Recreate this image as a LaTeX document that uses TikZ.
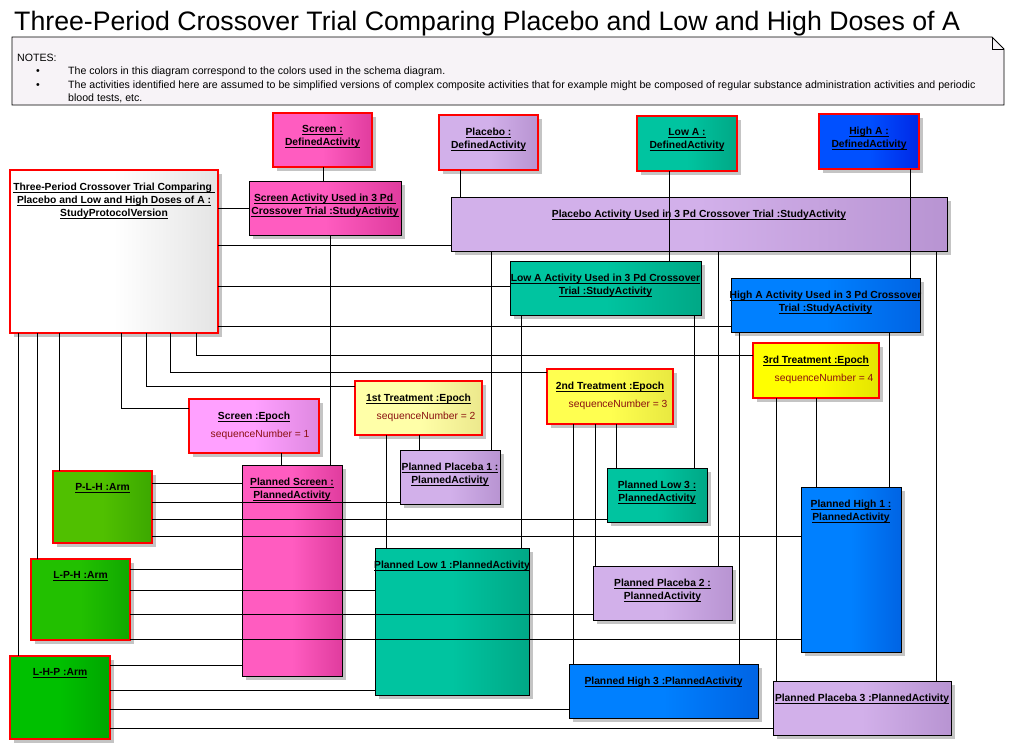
\documentclass[tikz,border=0pt]{standalone}
\usepackage{fontspec}
\setmainfont{Liberation Sans}
\usetikzlibrary{shadows}
\definecolor{boxred}{HTML}{FF0000}
\definecolor{shadowgray}{HTML}{C4C4C4}
\definecolor{attrred}{HTML}{8A1010}
\definecolor{notefill}{HTML}{F7F3F7}
\definecolor{pinkA}{HTML}{FF5CC0}\definecolor{pinkB}{HTML}{E03C9E}
\definecolor{lavA}{HTML}{D2B0EA}\definecolor{lavB}{HTML}{B894D2}
\definecolor{tealA}{HTML}{00C4A0}\definecolor{tealB}{HTML}{00A886}
\definecolor{blueA}{HTML}{0080FF}\definecolor{blueB}{HTML}{0064E4}
\definecolor{hblueA}{HTML}{0050FF}\definecolor{hblueB}{HTML}{0028E6}
\definecolor{yoneA}{HTML}{FFFFA8}\definecolor{yoneB}{HTML}{ECE88C}
\definecolor{ytwoA}{HTML}{FFFF50}\definecolor{ytwoB}{HTML}{E8E840}
\definecolor{ythrA}{HTML}{FFFF00}\definecolor{ythrB}{HTML}{E4E400}
\definecolor{scrA}{HTML}{FFA0FF}\definecolor{scrB}{HTML}{DE88E0}
\definecolor{goneA}{HTML}{50C000}\definecolor{goneB}{HTML}{3CA800}
\definecolor{gtwoA}{HTML}{22C000}\definecolor{gtwoB}{HTML}{10A800}
\definecolor{gthrA}{HTML}{00C000}\definecolor{gthrB}{HTML}{00A600}
\definecolor{spvB}{HTML}{E4E4E4}
\newcommand\ul[1]{\setbox0=\hbox{#1}\rlap{\rule[-2.2pt]{\wd0}{0.8pt}}\box0}
\tikzset{
  box/.style={inner sep=0pt, outer sep=0pt, line width=1pt,
    general shadow={fill=shadowgray, shadow xshift=4pt, shadow yshift=-4pt}},
  rbox/.style={box, draw=boxred, line width=1.3pt},
  kbox/.style={box, draw=black},
  grad/.style 2 args={left color=#1, right color=#2, middle color=#1},
  lbl/.style={inner sep=0pt, anchor=north, align=center,
    font=\fontsize{10.3}{13}\selectfont\bfseries},
  attr/.style={inner sep=0pt, font=\fontsize{10.3}{13}\selectfont, text=attrred},
  conn/.style={draw=black, line width=0.9pt},
  notetxt/.style={inner sep=0pt, font=\fontsize{10.6}{13}\selectfont},
}
\newcommand\mkbox[7]{%
  \node[#6, minimum width={(#4-#2)*1pt}, minimum height={(#5-#3)*1pt}] (#1)
    at ({(#2+#4)/2},{(#3+#5)/2}) {};
  \node[lbl] (#1-t) at ([yshift=-12.5pt]#1.north) {#7};}
\newcommand\mkepoch[8]{%
  \mkbox{#1}{#2}{#3}{#4}{#5}{#6}{\ul{#7}}
  \node[attr, anchor=base west] (#1-a) at ([xshift=21.5pt,yshift=-38pt]#1.north west) {#8};}
\begin{document}
\begin{tikzpicture}[x=1pt,y=-1pt]
\fill[white] (0,0) rectangle (1014,750);
\path[use as bounding box] (0,0) rectangle (1014,750);
% title
\node[inner sep=0pt, anchor=base west, font=\fontsize{26.7}{30}\selectfont] (title) at (14,30)
  {Three-Period Crossover Trial Comparing Placebo and Low and High Doses of A};
% notes
\path[draw=black, line width=0.8pt, fill=notefill] (12,37) -- (992,37) -- (1004,49) -- (1004,105) -- (12,105) -- cycle;
\draw[line width=0.8pt] (992,37) -- (992,49) -- (1004,49);
\node[notetxt, anchor=base west] (nhead) at (17,61) {NOTES:};
\node[notetxt, anchor=base] (bul1) at (38,74) {\textbullet};
\node[notetxt, anchor=base] (bul2) at (38,88) {\textbullet};
\node[notetxt, anchor=base west] (nl1) at (68,74) {The colors in this diagram correspond to the colors used in the schema diagram.};
\node[notetxt, anchor=base west] (nl2) at (68,88) {The activities identified here are assumed to be simplified versions of complex composite activities that for example might be composed of regular substance administration activities and periodic};
\node[notetxt, anchor=base west] (nl3) at (68,101) {blood tests, etc.};
% boxes
\mkbox{spv}{10}{170}{218}{333}{rbox,grad={white}{spvB}}{\ul{Three-Period Crossover Trial Comparing }\\\ul{Placebo and Low and High Doses of A :}\\\ul{StudyProtocolVersion}}
\mkbox{sda}{273}{113}{372}{167}{rbox,grad={pinkA}{pinkB}}{\ul{Screen :}\\\ul{DefinedActivity}}
\mkbox{pda}{439}{115}{538}{170}{rbox,grad={lavA}{lavB}}{\ul{Placebo :}\\\ul{DefinedActivity}}
\mkbox{lda}{637}{116}{737}{171}{rbox,grad={tealA}{tealB}}{\ul{Low A :}\\\ul{DefinedActivity}}
\mkbox{hda}{819}{114}{919}{169}{rbox,grad={hblueA}{hblueB}}{\ul{High A :}\\\ul{DefinedActivity}}
\mkbox{ssa}{249}{181}{401}{235}{kbox,grad={pinkA}{pinkB}}{\ul{Screen Activity Used in 3 Pd }\\\ul{Crossover Trial :StudyActivity}}
\mkbox{psa}{451}{197}{947}{251}{kbox,grad={lavA}{lavB}}{\ul{Placebo Activity Used in 3 Pd Crossover Trial :StudyActivity}}
\mkbox{lsa}{510}{261}{701}{315}{kbox,grad={tealA}{tealB}}{\ul{Low A Activity Used in 3 Pd Crossover}\\\ul{Trial :StudyActivity}}
\mkbox{hsa}{731}{278}{920}{332}{kbox,grad={blueA}{blueB}}{\ul{High A Activity Used in 3 Pd Crossover}\\\ul{Trial :StudyActivity}}
\mkepoch{tthr}{753}{343}{879}{398}{rbox,grad={ythrA}{ythrB}}{3rd Treatment :Epoch}{sequenceNumber = 4}
\mkepoch{ttwo}{547}{369}{673}{424}{rbox,grad={ytwoA}{ytwoB}}{2nd Treatment :Epoch}{sequenceNumber = 3}
\mkepoch{tone}{355}{381}{482}{435}{rbox,grad={yoneA}{yoneB}}{1st Treatment :Epoch}{sequenceNumber = 2}
\mkepoch{sep}{189}{399}{319}{453}{rbox,grad={scrA}{scrB}}{Screen :Epoch}{sequenceNumber = 1}
\mkbox{ppone}{400}{450}{500}{504}{kbox,grad={lavA}{lavB}}{\ul{Planned Placeba 1 :}\\\ul{PlannedActivity}}
\mkbox{plthr}{607}{468}{707}{522}{kbox,grad={tealA}{tealB}}{\ul{Planned Low 3 :}\\\ul{PlannedActivity}}
\mkbox{pscr}{242}{465}{342}{676}{kbox,grad={pinkA}{pinkB}}{\ul{Planned Screen :}\\\ul{PlannedActivity}}
\mkbox{plh}{53}{471}{152}{543}{rbox,grad={goneA}{goneB}}{\ul{P-L-H :Arm}}
\mkbox{phone}{801}{487}{901}{652}{kbox,grad={blueA}{blueB}}{\ul{Planned High 1 :}\\\ul{PlannedActivity}}
\mkbox{plone}{375}{548}{529}{695}{kbox,grad={tealA}{tealB}}{\ul{Planned Low 1 :PlannedActivity}}
\mkbox{lph}{31}{559}{130}{640}{rbox,grad={gtwoA}{gtwoB}}{\ul{L-P-H :Arm}}
\mkbox{pptwo}{593}{566}{732}{620}{kbox,grad={lavA}{lavB}}{\ul{Planned Placeba 2 :}\\\ul{PlannedActivity}}
\mkbox{lhp}{10}{656}{110}{739}{rbox,grad={gthrA}{gthrB}}{\ul{L-H-P :Arm}}
\mkbox{phthr}{569}{664}{758}{718}{kbox,grad={blueA}{blueB}}{\ul{Planned High 3 :PlannedActivity}}
\mkbox{ppthr}{773}{681}{951}{735}{kbox,grad={lavA}{lavB}}{\ul{Planned Placeba 3 :PlannedActivity}}
% connectors from the protocol version
\draw[conn] (spv.east |- 0,208) -- (ssa.west |- 0,208);
\draw[conn] (spv.east |- 0,245) -- (psa.west |- 0,245);
\draw[conn] (spv.east |- 0,286) -- (lsa.west |- 0,286);
\draw[conn] (spv.east |- 0,326) -- (hsa.west |- 0,326);
\draw[conn] (spv.south -| 196,0) |- (tthr.west |- 0,355);
\draw[conn] (spv.south -| 170,0) |- (ttwo.west |- 0,372);
\draw[conn] (spv.south -| 146,0) |- (tone.west |- 0,386);
\draw[conn] (spv.south -| 121,0) |- (sep.west |- 0,408);
\draw[conn] (spv.south -| 59,0) -- (plh.north -| 59,0);
\draw[conn] (spv.south -| 37,0) -- (lph.north -| 37,0);
\draw[conn] (spv.south -| 18,0) -- (lhp.north -| 18,0);
% defined -> study activities
\draw[conn] (sda.south -| 323,0) -- (ssa.north -| 323,0);
\draw[conn] (pda.south -| 460,0) -- (psa.north -| 460,0);
\draw[conn] (lda.south -| 669,0) -- (lsa.north -| 669,0);
\draw[conn] (hda.south -| 910,0) -- (hsa.north -| 910,0);
% study activities -> planned activities
\draw[conn] (ssa.south -| 330,0) -- (pscr.north -| 330,0);
\draw[conn] (psa.south -| 491,0) -- (ppone.north -| 491,0);
\draw[conn] (psa.south -| 718,0) -- (pptwo.north -| 718,0);
\draw[conn] (psa.south -| 936,0) -- (ppthr.north -| 936,0);
\draw[conn] (lsa.south -| 521,0) -- (plone.north -| 521,0);
\draw[conn] (lsa.south -| 694,0) -- (plthr.north -| 694,0);
\draw[conn] (hsa.south -| 739,0) -- (phthr.north -| 739,0);
\draw[conn] (hsa.south -| 889,0) -- (phone.north -| 889,0);
% epochs -> planned activities
\draw[conn] (sep.south -| 281,0) -- (pscr.north -| 281,0);
\draw[conn] (tone.south -| 419,0) -- (ppone.north -| 419,0);
\draw[conn] (tone.south -| 386,0) -- (plone.north -| 386,0);
\draw[conn] (ttwo.south -| 616,0) -- (plthr.north -| 616,0);
\draw[conn] (ttwo.south -| 595,0) -- (pptwo.north -| 595,0);
\draw[conn] (ttwo.south -| 573,0) -- (phthr.north -| 573,0);
\draw[conn] (tthr.south -| 816,0) -- (phone.north -| 816,0);
\draw[conn] (tthr.south -| 776,0) -- (ppthr.north -| 776,0);
% arms -> planned activities
\draw[conn] (plh.east |- 0,483) -- (pscr.west |- 0,483);
\draw[conn] (plh.east |- 0,502) -- (ppone.west |- 0,502);
\draw[conn] (plh.east |- 0,519) -- (plthr.west |- 0,519);
\draw[conn] (plh.east |- 0,536) -- (phone.west |- 0,536);
\draw[conn] (lph.east |- 0,569) -- (pscr.west |- 0,569);
\draw[conn] (lph.east |- 0,590) -- (plone.west |- 0,590);
\draw[conn] (lph.east |- 0,614) -- (pptwo.west |- 0,614);
\draw[conn] (lph.east |- 0,639) -- (phone.west |- 0,639);
\draw[conn] (lhp.east |- 0,665) -- (pscr.west |- 0,665);
\draw[conn] (lhp.east |- 0,690) -- (plone.west |- 0,690);
\draw[conn] (lhp.east |- 0,709) -- (phthr.west |- 0,709);
\draw[conn] (lhp.east |- 0,728) -- (ppthr.west |- 0,728);
\end{tikzpicture}
\end{document}
